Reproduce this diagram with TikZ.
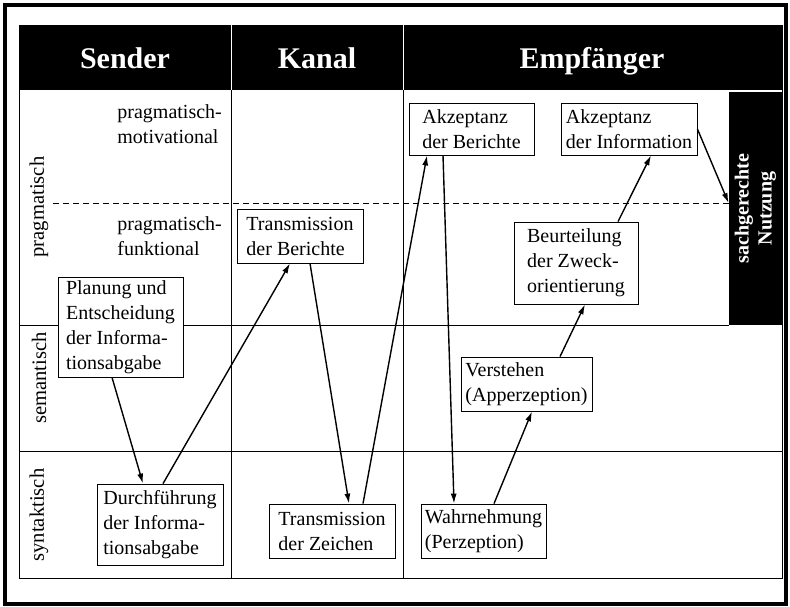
\documentclass[tikz,border=0pt]{standalone}
\usepackage{fontspec}
\setmainfont{Liberation Serif}
\usetikzlibrary{positioning,arrows.meta}

\begin{document}
\begin{tikzpicture}[x=0.5pt, y=-0.5pt,
	stage/.style={draw, fill=white, align=left, inner sep=0, font=\fontsize{10}{12.5}\selectfont},
	head/.style={anchor=base, text=white, font=\fontsize{15}{18}\selectfont\bfseries},
	level/.style={rotate=90, font=\fontsize{10.3}{12}\selectfont},
	sublevel/.style={anchor=north west, align=left, inner sep=0, font=\fontsize{10}{12.5}\selectfont},
	flow/.style={-{Latex[length=5pt,width=3pt]}, line width=0.7pt}]
	\useasboundingbox (0,0) rectangle (790,606);
	\draw[line width=2.2pt] (5,5) rectangle (786,604);
	\fill (19,25) rectangle (782,90);
	\draw (19,25) rectangle (782,578);
	\draw (19,325) -- (729,325);
	\draw (19,451) -- (782,451);
	\draw[densely dashed] (53,203) -- (729,203);
	\foreach \x in {231,403} {
		\draw[white] (\x,25) -- (\x,90);
		\draw (\x,90) -- (\x,578);
	};
	\foreach \x/\n/\t in {125/sender/Sender,317/kanal/Kanal,592/empf/Empfänger} {
		\node[head] at(\x,68) (\n) {\t};
	};
	\foreach \y/\n/\t in {207/prag/pragmatisch,378/sem/semantisch,515/syn/syntaktisch} {
		\node[level] at(39,\y) (\n) {\t};
	};
	\node[sublevel] at(117,104) (motiv) {pragmatisch-\\motivational};
	\node[sublevel] at(117,216) (funkt) {pragmatisch-\\funktional};
	\node[fill=black, inner sep=0, minimum width=26.5pt, minimum height=116.5pt] at(755.5,208.5) (nutz) {};
	\node[rotate=90, text=white, align=center, font=\fontsize{10}{11.5}\selectfont\bfseries] at(nutz.center) (nutztext) {sachgerechte\\Nutzung};

	\node[stage, minimum width=62.5pt, minimum height=50pt] at(120.5,327) (plan) {Planung und\\Entscheidung\\der Informa-\\tionsabgabe};
	\node[stage, minimum width=63pt, minimum height=40.5pt] at(160,524.5) (durch) {Durchführung\\der Informa-\\tionsabgabe};
	\node[stage, minimum width=63pt, minimum height=27pt] at(300,236) (tberi) {Transmission\\der Berichte};
	\node[stage, minimum width=63pt, minimum height=27pt] at(332,531) (tzei) {Transmission\\der Zeichen};
	\node[stage, minimum width=62.5pt, minimum height=26pt] at(471.5,129) (akber) {Akzeptanz\\der Berichte};
	\node[stage, minimum width=68pt, minimum height=26pt] at(629,129) (akinf) {Akzeptanz\\der Information};
	\node[stage, minimum width=62pt, minimum height=41pt] at(576,263) (beurt) {Beurteilung\\der Zweck-\\orientierung};
	\node[stage, minimum width=65.5pt, minimum height=27pt] at(526.5,384) (verst) {Verstehen\\(Apperzeption)};
	\node[stage, minimum width=62.5pt, minimum height=27pt] at(483.5,531) (wahr) {Wahrnehmung\\(Perzeption)};

	\path[every edge/.append style={flow}]
		([xshift=-4.25pt]plan.south) edge ([xshift=-8.5pt]durch.north)
		([xshift=1.5pt]durch.north) edge ([xshift=-5pt]tberi.south)
		([xshift=5pt]tberi.south) edge ([xshift=8.5pt]tzei.north)
		([xshift=15.5pt]tzei.north) edge ([xshift=-22.25pt]akber.south)
		([xshift=-14.25pt]akber.south) edge ([xshift=-14.75pt]wahr.north)
		([xshift=5.25pt]wahr.north) edge ([xshift=2.75pt]verst.south)
		([xshift=16.75pt]verst.north) edge ([xshift=4.5pt]beurt.south)
		([xshift=21pt]beurt.north) edge ([xshift=11pt]akinf.south)
		(akinf.east) edge ([yshift=2.75pt]nutz.west);
\end{tikzpicture}
\end{document}
